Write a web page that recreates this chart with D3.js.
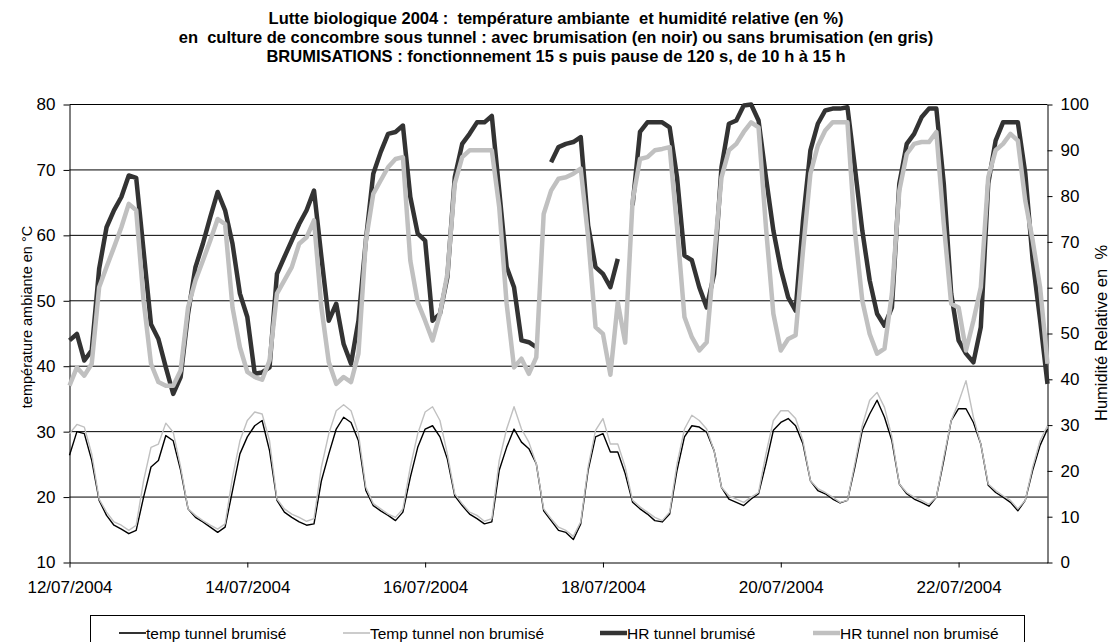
<!DOCTYPE html>
<html>
<head>
<meta charset="utf-8">
<script src="https://cdn.jsdelivr.net/npm/d3@7/dist/d3.min.js"></script>
<style>
  body { margin: 0; background: #fff; }
  svg text { font-family: "Liberation Sans", Arial, sans-serif; white-space: pre; }
</style>
</head>
<body>
<div id="chart"></div>
<script>
'use strict';

// titles
var titleLines = [
  'Lutte biologique 2004 :  température ambiante  et humidité relative (en %)',
  'en  culture de concombre sous tunnel : avec brumisation (en noir) ou sans brumisation (en gris)',
  'BRUMISATIONS : fonctionnement 15 s puis pause de 120 s, de 10 h à 15 h'
];
var leftTitle = 'température ambiante en °C';
var rightTitle = 'Humidité Relative en  %';

// one reading every 2 hours, from 12/07/2004 0h to 23/07/2004 0h
var startDay = new Date(2004, 6, 12);
var stepHours = 2;

var tempBrum = [
  26.4, 30.0, 29.7, 25.6, 19.5, 17.2, 15.7, 15.1, 14.4, 14.9, 20.0, 24.6,
  25.6, 29.4, 28.6, 24.1, 18.2, 16.9, 16.2, 15.4, 14.6, 15.4, 21.0, 26.6,
  29.2, 30.9, 31.7, 27.1, 19.5, 17.7, 16.9, 16.2, 15.7, 15.9, 22.5, 26.6,
  30.4, 32.2, 31.4, 28.6, 21.0, 18.7, 17.9, 17.2, 16.4, 17.7, 23.0, 27.6,
  30.4, 30.9, 29.2, 25.8, 20.2, 18.7, 17.4, 16.7, 15.9, 16.2, 24.1, 27.6,
  30.4, 28.4, 27.4, 25.1, 17.9, 16.4, 14.9, 14.6, 13.5, 15.9, 24.1, 29.2,
  29.7, 26.9, 26.9, 23.6, 19.2, 18.2, 17.4, 16.4, 16.2, 17.4, 24.1, 29.2,
  30.9, 30.7, 29.9, 27.1, 21.5, 19.7, 19.2, 18.7, 19.7, 20.5, 25.1, 30.2,
  31.4, 32.0, 30.9, 28.1, 22.5, 21.0, 20.5, 19.7, 19.1, 19.5, 24.6, 30.2,
  32.7, 34.8, 32.2, 28.6, 22.0, 20.5, 19.7, 19.2, 18.6, 20.0, 25.6, 31.7,
  33.5, 33.5, 31.4, 28.1, 21.8, 20.7, 20.0, 19.2, 17.9, 19.5, 24.1, 27.9,
  30.4
];

var tempNon = [
  29.7, 31.1, 30.7, 26.6, 19.7, 17.7, 16.2, 15.7, 14.9, 15.7, 22.5, 27.6,
  28.1, 31.3, 29.9, 24.6, 18.2, 17.2, 16.4, 15.7, 15.1, 15.9, 23.0, 28.6,
  31.7, 33.0, 32.7, 28.6, 19.7, 18.2, 17.4, 16.9, 16.3, 16.7, 24.6, 29.7,
  33.2, 34.1, 33.2, 29.7, 21.5, 19.0, 18.2, 17.4, 16.9, 18.2, 24.6, 29.7,
  33.0, 33.8, 31.7, 26.6, 20.5, 19.0, 17.7, 17.2, 16.3, 16.7, 25.6, 30.4,
  33.8, 30.4, 28.4, 25.1, 18.2, 16.7, 15.4, 14.9, 14.0, 16.2, 24.6, 30.2,
  32.0, 28.1, 28.1, 24.6, 19.5, 18.5, 17.7, 16.9, 16.4, 17.7, 25.1, 30.4,
  32.5, 31.7, 30.4, 27.1, 21.5, 20.2, 19.7, 19.2, 20.0, 20.7, 26.6, 31.7,
  33.2, 33.2, 32.0, 28.6, 22.5, 21.3, 20.7, 20.0, 19.2, 19.5, 25.1, 30.9,
  34.8, 36.0, 33.7, 29.2, 22.0, 20.7, 20.0, 19.5, 18.9, 20.0, 26.1, 31.7,
  34.5, 37.8, 32.2, 28.1, 22.0, 21.0, 20.2, 19.5, 18.2, 19.5, 24.6, 28.6,
  30.9
];

var hrBrum = [
  48.5, 49.9, 44.1, 46.3, 64.1, 73.2, 76.9, 79.8, 84.5, 84.0, 68.0, 52.0,
  48.8, 42.6, 36.8, 40.5, 54.3, 64.5, 69.6, 75.4, 80.9, 76.9, 69.6, 58.7,
  53.6, 41.2, 41.5, 42.6, 63.0, 66.7, 70.3, 73.9, 76.9, 81.2, 66.7, 52.8,
  56.5, 47.7, 43.4, 52.8, 70.3, 84.9, 89.6, 93.6, 94.0, 95.4, 79.8, 71.8,
  70.3, 52.8, 54.3, 62.3, 84.1, 91.4, 93.6, 96.1, 96.1, 97.5, 81.2, 64.5,
  60.1, 48.5, 48.1, 47.0, null, 87.4, 90.7, 91.4, 91.8, 92.9, 73.6, 64.5,
  63.0, 60.1, 66.3, null, 78.0, 94.0, 96.1, 96.1, 96.1, 95.0, 84.1, 67.0,
  66.0, 60.1, 55.7, 63.0, 86.3, 95.8, 96.5, 99.8, 100.0, 96.5, 84.1, 72.5,
  64.1, 57.9, 55.0, 74.7, 90.0, 95.8, 98.7, 99.1, 99.1, 99.4, 86.3, 72.5,
  61.6, 54.3, 51.7, 55.7, 82.7, 91.4, 93.6, 97.2, 99.1, 99.1, 82.7, 58.7,
  48.5, 45.6, 43.7, 51.4, 82.7, 92.1, 96.1, 96.1, 96.1, 85.0, 66.0, 53.0,
  39.0
];

var hrNon = [
  38.6, 42.6, 40.8, 43.4, 60.1, 64.5, 68.8, 73.2, 78.3, 76.9, 57.2, 43.4,
  39.4, 38.6, 38.6, 41.9, 55.7, 61.6, 65.9, 70.3, 75.0, 73.9, 55.7, 47.0,
  41.6, 40.5, 39.9, 44.1, 58.7, 61.6, 64.5, 69.6, 71.0, 74.7, 55.7, 43.7,
  39.0, 40.5, 39.4, 45.6, 70.3, 80.5, 83.4, 86.3, 88.1, 88.5, 65.9, 56.8,
  52.8, 48.5, 54.3, 63.0, 82.7, 88.5, 90.0, 90.0, 90.0, 90.0, 77.6, 56.5,
  42.6, 44.5, 41.2, 44.8, 76.1, 81.2, 83.8, 84.1, 84.9, 86.0, 71.0, 51.4,
  49.9, 41.0, 56.8, 48.0, 79.0, 88.1, 88.5, 90.0, 90.3, 90.7, 73.2, 53.6,
  49.2, 46.3, 48.1, 66.7, 84.1, 90.0, 91.4, 94.0, 96.1, 95.0, 73.2, 54.3,
  46.3, 48.8, 49.6, 68.1, 84.9, 91.0, 94.3, 96.1, 96.1, 96.1, 72.5, 57.2,
  49.9, 45.6, 46.7, 58.7, 81.2, 89.2, 91.4, 91.8, 91.8, 94.0, 73.9, 56.5,
  55.7, 46.3, 52.8, 60.1, 84.1, 90.0, 91.4, 93.6, 92.1, 79.0, 70.3, 60.1,
  43.4
];

var seriesNames = ['temp tunnel brumisé', 'Temp tunnel non brumisé', 'HR tunnel brumisé', 'HR tunnel non brumisé'];
var tempTicks = [10, 20, 30, 40, 50, 60, 70, 80];
var hrTicks = [0, 10, 20, 30, 40, 50, 60, 70, 80, 90, 100];

var width = 1112, height = 642;
var plot = {left: 69.5, right: 1047.5, top: 104.5, bottom: 562.5};

var svg = d3.select('#chart').append('svg')
  .attr('width', width).attr('height', height);

var x = d3.scaleTime()
  .domain([startDay, d3.timeDay.offset(startDay, 11)])
  .range([plot.left, plot.right]);
var yT = d3.scaleLinear().domain([10, 80]).range([plot.bottom, plot.top]);
var yH = d3.scaleLinear().domain([0, 100]).range([plot.bottom, plot.top]);

function timeAt(i) { return d3.timeHour.offset(startDay, i * stepHours); }

// title
svg.append('g').selectAll('text')
  .data(titleLines).enter().append('text')
  .attr('x', 556).attr('y', function(d, i) { return 24 + i * 19; })
  .attr('text-anchor', 'middle')
  .attr('font-weight', 'bold').attr('font-size', 16.5)
  .text(function(d) { return d; });

// gridlines
svg.append('g').selectAll('line')
  .data(tempTicks.filter(function(t) { return t > 10; }))
  .enter().append('line')
  .attr('x1', plot.left).attr('x2', plot.right)
  .attr('y1', function(d) { return yT(d); }).attr('y2', function(d) { return yT(d); })
  .attr('stroke', '#000').attr('stroke-width', 1);

// axes
var xAxis = d3.axisBottom(x)
  .tickValues(d3.range(0, 12, 2).map(function(k) { return d3.timeDay.offset(startDay, k); }))
  .tickFormat(d3.timeFormat('%d/%m/%Y'))
  .tickSize(5).tickSizeOuter(0);
var gx = svg.append('g').attr('transform', 'translate(0,' + plot.bottom + ')').call(xAxis);
gx.selectAll('text').attr('font-size', 17).attr('fill', '#000')
  .attr('y', 30).attr('dy', 0).attr('font-family', null);

var gl = svg.append('g').attr('transform', 'translate(' + plot.left + ',0)')
  .call(d3.axisLeft(yT).tickValues(tempTicks).tickSize(6).tickSizeOuter(0).tickPadding(8));
gl.selectAll('text').attr('font-size', 17).attr('fill', '#000').attr('font-family', null);

var gr = svg.append('g').attr('transform', 'translate(' + plot.right + ',0)')
  .call(d3.axisRight(yH).tickValues(hrTicks).tickSize(5).tickSizeOuter(0).tickPadding(8));
gr.selectAll('text').attr('font-size', 17).attr('fill', '#000').attr('font-family', null);

svg.selectAll('.domain').attr('stroke', '#000');
svg.selectAll('.tick line').attr('stroke', '#000');

// axis titles
svg.append('text')
  .attr('transform', 'translate(32,317) rotate(-90)')
  .attr('text-anchor', 'middle').attr('font-size', 14.5)
  .text(leftTitle);
svg.append('text')
  .attr('transform', 'translate(1107,333) rotate(-90)')
  .attr('text-anchor', 'middle').attr('font-size', 16.5)
  .text(rightTitle);

// series
var lineT = d3.line()
  .defined(function(d) { return d != null; })
  .x(function(d, i) { return x(timeAt(i)); })
  .y(function(d) { return yT(d); });
var lineH = d3.line()
  .defined(function(d) { return d != null; })
  .x(function(d, i) { return x(timeAt(i)); })
  .y(function(d) { return yH(d); });

var styles = [
  {color: '#000000', w: 1.4},
  {color: '#c0c0c0', w: 1.4},
  {color: '#333333', w: 4.5},
  {color: '#c0c0c0', w: 4.5}
];

svg.append('path').datum(tempBrum).attr('d', lineT)
  .attr('fill', 'none').attr('stroke', styles[0].color).attr('stroke-width', styles[0].w).attr('stroke-linejoin', 'round');
svg.append('path').datum(tempNon).attr('d', lineT)
  .attr('fill', 'none').attr('stroke', styles[1].color).attr('stroke-width', styles[1].w).attr('stroke-linejoin', 'round');
svg.append('path').datum(hrBrum).attr('d', lineH)
  .attr('fill', 'none').attr('stroke', styles[2].color).attr('stroke-width', styles[2].w).attr('stroke-linejoin', 'round');
svg.append('path').datum(hrNon).attr('d', lineH)
  .attr('fill', 'none').attr('stroke', styles[3].color).attr('stroke-width', styles[3].w).attr('stroke-linejoin', 'round');

// legend
var legendX = [119, 343, 600, 813];
svg.append('rect')
  .attr('x', 90.5).attr('y', 615.5).attr('width', 934).attr('height', 60)
  .attr('fill', 'none').attr('stroke', '#000').attr('stroke-width', 1);
var items = svg.append('g').selectAll('g')
  .data(seriesNames).enter().append('g')
  .attr('transform', function(d, i) { return 'translate(' + legendX[i] + ',633)'; });
items.append('line')
  .attr('x1', 0).attr('x2', 27).attr('y1', 0).attr('y2', 0)
  .attr('stroke', function(d, i) { return styles[i].color; })
  .attr('stroke-width', function(d, i) { return i < 2 ? 1.6 : 4.5; });
items.append('text')
  .attr('x', 27).attr('y', 5.5).attr('font-size', 15.5)
  .text(function(d) { return d; });
</script>
</body>
</html>
